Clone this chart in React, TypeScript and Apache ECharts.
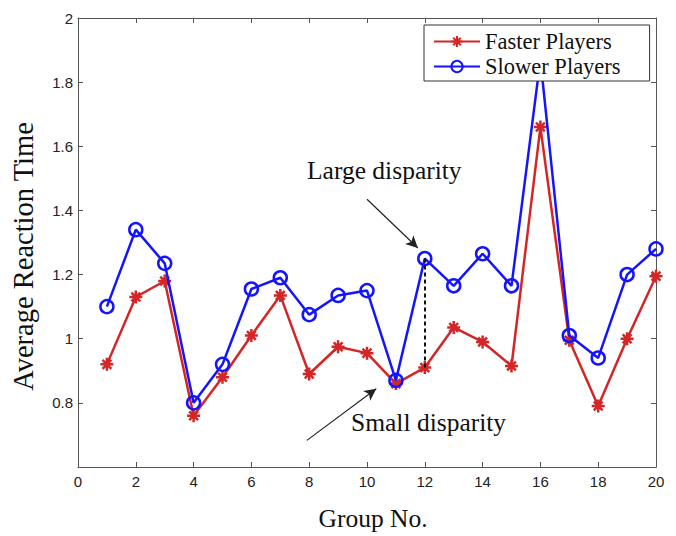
import React, { useEffect, useRef } from "react";
import * as echarts from "echarts";

const groups = [1, 2, 3, 4, 5, 6, 7, 8, 9, 10, 11, 12, 13, 14, 15, 16, 17, 18, 19, 20];
const fasterPlayers = [0.92, 1.13, 1.18, 0.76, 0.88, 1.01, 1.135, 0.89, 0.975, 0.955, 0.86, 0.91, 1.035, 0.99, 0.915, 1.66, 0.995, 0.79, 1.0, 1.195];
const slowerPlayers = [1.1, 1.34, 1.235, 0.8, 0.92, 1.155, 1.19, 1.075, 1.135, 1.15, 0.87, 1.25, 1.165, 1.265, 1.165, 1.87, 1.01, 0.94, 1.2, 1.28];
const xTicks = [0, 2, 4, 6, 8, 10, 12, 14, 16, 18, 20];
const yTicks = [0.6, 0.8, 1.0, 1.2, 1.4, 1.6, 1.8, 2.0];
const seriesNames = ["Faster Players", "Slower Players"];
const disparityGroup = 12;
const largeArrow = [[10.0, 1.435], [11.76, 1.283]];
const smallArrow = [[7.92, 0.683], [10.32, 0.844]];

const RED = "#d42626";
const BLUE = "#1414ff";
const AXIS = "#555555";
const SERIF = "'Liberation Serif', 'Times New Roman', serif";
const SANS = "'Liberation Sans', Arial, sans-serif";
const STAR = "path://M5,0 L5,10 M0,5 L10,5 M1.6,1.6 L8.4,8.4 M1.6,8.4 L8.4,1.6";

export default function App() {
  const ref = useRef<HTMLDivElement>(null);
  useEffect(() => {
    if (!ref.current) return;
    const chart = echarts.init(ref.current, null, { renderer: "svg" });
    const axisCommon = {
      type: "value" as const,
      axisLine: { show: true, onZero: false, lineStyle: { color: AXIS, width: 1 } },
      axisTick: { show: true, inside: true, length: 5, lineStyle: { color: AXIS } },
      splitLine: { show: false },
    };
    chart.setOption({
      animation: false,
      backgroundColor: "#ffffff",
      grid: { left: 78, top: 18, right: 20, bottom: 62, containLabel: false },
      legend: {
        data: seriesNames,
        orient: "vertical",
        left: 424,
        top: 25,
        padding: [5, 29, 3, 9],
        itemGap: 2,
        itemWidth: 46,
        itemHeight: 14,
        backgroundColor: "#ffffff",
        borderColor: "#333333",
        borderWidth: 1,
        borderRadius: 0,
        textStyle: { fontFamily: SERIF, fontSize: 22.5, color: "#111111", lineHeight: 22 },
      },
      xAxis: [
        {
          ...axisCommon,
          min: xTicks[0],
          max: xTicks[xTicks.length - 1],
          interval: 2,
          position: "bottom",
          name: "Group No.",
          nameLocation: "middle",
          nameGap: 38,
          nameTextStyle: { fontFamily: SERIF, fontSize: 25.5, color: "#111111", padding: [0, 0, 0, 12] },
          axisLabel: { fontFamily: SANS, fontSize: 15, color: "#222222", margin: 7 },
        },
        {
          ...axisCommon,
          min: xTicks[0],
          max: xTicks[xTicks.length - 1],
          interval: 2,
          position: "top",
          axisLabel: { show: false },
        },
      ],
      yAxis: [
        {
          ...axisCommon,
          min: yTicks[0],
          max: yTicks[yTicks.length - 1],
          interval: 0.2,
          position: "left",
          name: "Average Reaction Time",
          nameLocation: "middle",
          nameGap: 40,
          nameTextStyle: { fontFamily: SERIF, fontSize: 28.5, color: "#111111", padding: [0, 28, 0, 0] },
          axisLabel: {
            fontFamily: SANS,
            fontSize: 15,
            color: "#222222",
            margin: 5,
            showMinLabel: false,
            formatter: (v: number) => String(Math.round(v * 10) / 10),
          },
        },
        {
          ...axisCommon,
          min: yTicks[0],
          max: yTicks[yTicks.length - 1],
          interval: 0.2,
          position: "right",
          axisLabel: { show: false },
        },
      ],
      graphic: [
        {
          type: "text",
          left: 307,
          top: 157,
          style: { text: "Large disparity", fontFamily: SERIF, fontSize: 25.5, fill: "#111111" },
          z: 10,
        },
        {
          type: "text",
          left: 351,
          top: 409,
          style: { text: "Small disparity", fontFamily: SERIF, fontSize: 25.5, fill: "#111111" },
          z: 10,
        },
      ],
      series: [
        {
          name: seriesNames[0],
          type: "line",
          data: groups.map((g, i) => [g, fasterPlayers[i]]),
          symbol: STAR,
          symbolSize: 13,
          lineStyle: { color: RED, width: 2.5 },
          itemStyle: { color: RED, borderColor: RED, borderWidth: 2.5 },
          z: 2,
          markLine: {
            silent: true,
            symbol: ["none", "none"],
            label: { show: false },
            lineStyle: { color: "#111111", width: 2, type: [4, 3] },
            data: [
              [
                { coord: [disparityGroup, slowerPlayers[disparityGroup - 1]] },
                { coord: [disparityGroup, fasterPlayers[disparityGroup - 1]] },
              ],
            ],
          },
        },
        {
          name: seriesNames[1],
          type: "line",
          data: groups.map((g, i) => [g, slowerPlayers[i]]),
          symbol: "circle",
          symbolSize: 13,
          lineStyle: { color: BLUE, width: 2.5 },
          itemStyle: { color: "rgba(255,255,255,0)", borderColor: BLUE, borderWidth: 2.5 },
          z: 3,
          markLine: {
            silent: true,
            symbol: ["none", "arrow"],
            symbolSize: [9, 12],
            label: { show: false },
            lineStyle: { color: "#222222", width: 1.2, type: "solid" },
            data: [
              [{ coord: largeArrow[0] }, { coord: largeArrow[1] }],
              [{ coord: smallArrow[0] }, { coord: smallArrow[1] }],
            ],
          },
        },
      ],
    });
    return () => chart.dispose();
  }, []);
  return (
    <div
      ref={ref}
      style={{ position: "fixed", left: 0, top: 0, width: 676, height: 536, background: "#fff" }}
    />
  );
}
